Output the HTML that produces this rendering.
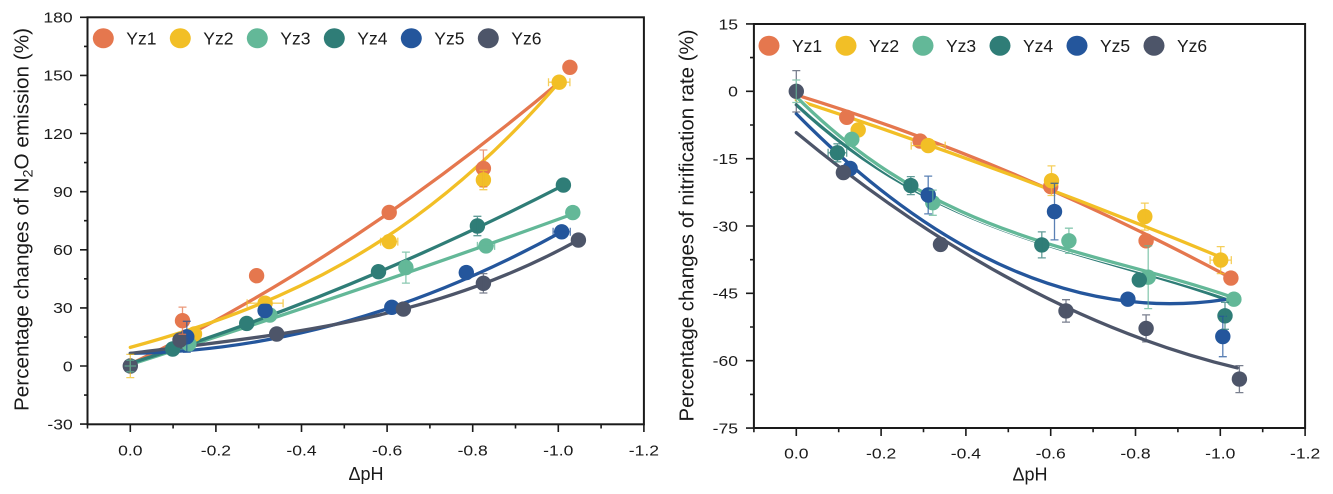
<!DOCTYPE html>
<html>
<head>
<meta charset="utf-8">
<style>
html,body{margin:0;padding:0;background:#fff;}
svg{display:block;}
text{font-family:"Liberation Sans",Arial,sans-serif;fill:#1a1a1a;}
</style>
</head>
<body>
<svg width="1333" height="494" viewBox="0 0 1333 494" xmlns="http://www.w3.org/2000/svg">
<rect x="0" y="0" width="1333" height="494" fill="#fff"/>

<!-- ================= LEFT CHART ================= -->
<!-- curves -->
<g fill="none" stroke-linecap="round">
  <g stroke="#fff" stroke-width="5">
    <path d="M130.3,364.1 Q346.9,261.2 563.4,78.7"/>
    <path d="M130.3,347.4 C273,308.3 415.6,249 558.3,83.2"/>
    <path d="M130.3,364.5 Q351.6,294.3 572.9,214"/>
    <path d="M130.3,363.3 Q346.9,296.5 563.4,185.3"/>
    <path d="M130.3,353.4 Q346,350.4 561.7,231.8"/>
    <path d="M130.3,353.4 C279.7,334.6 429,322.4 578.4,240.1"/>
  </g>
  <path d="M130.3,364.1 Q346.9,261.2 563.4,78.7" stroke="#E5774E" stroke-width="3.3"/>
  <path d="M130.3,347.4 C273,308.3 415.6,249 558.3,83.2" stroke="#F2BF26" stroke-width="3.3"/>
  <path d="M130.3,364.5 Q351.6,294.3 572.9,214" stroke="#63B898" stroke-width="3.3"/>
  <path d="M130.3,363.3 Q346.9,296.5 563.4,185.3" stroke="#2F7D77" stroke-width="3.3"/>
  <path d="M130.3,353.4 Q346,350.4 561.7,231.8" stroke="#24569C" stroke-width="3.3"/>
  <path d="M130.3,353.4 C279.7,334.6 429,322.4 578.4,240.1" stroke="#4D5569" stroke-width="3.3"/>
</g>

<!-- markers -->
<g fill="#E5774E">
  <circle cx="182.5" cy="320.7" r="7.7"/><circle cx="256.6" cy="275.7" r="7.7"/>
  <circle cx="389.2" cy="212.4" r="7.7"/><circle cx="483.4" cy="168.4" r="7.7"/>
  <circle cx="569.9" cy="67.3" r="7.7"/>
</g>
<g fill="#F2BF26">
  <circle cx="194.5" cy="334.0" r="7.7"/><circle cx="265.1" cy="303.2" r="7.7"/>
  <circle cx="389.2" cy="241.6" r="7.7"/><circle cx="483.4" cy="180.0" r="7.7"/>
  <circle cx="559.2" cy="82.2" r="7.7"/>
</g>
<g fill="#63B898">
  <circle cx="188.9" cy="343.9" r="7.7"/><circle cx="269.8" cy="315.1" r="7.7"/>
  <circle cx="405.9" cy="267.6" r="7.7"/><circle cx="486.0" cy="245.9" r="7.7"/>
  <circle cx="572.8" cy="212.6" r="7.7"/>
</g>
<g fill="#2F7D77">
  <circle cx="172.7" cy="349.0" r="7.7"/><circle cx="246.7" cy="323.4" r="7.7"/>
  <circle cx="378.5" cy="271.7" r="7.7"/><circle cx="477.4" cy="226.0" r="7.7"/>
  <circle cx="563.4" cy="185.1" r="7.7"/>
</g>
<g fill="#24569C">
  <circle cx="186.8" cy="336.8" r="7.7"/><circle cx="265.1" cy="310.6" r="7.7"/>
  <circle cx="391.8" cy="307.3" r="7.7"/><circle cx="466.3" cy="272.6" r="7.7"/>
  <circle cx="561.7" cy="231.8" r="7.7"/>
</g>
<g fill="#4D5569">
  <circle cx="130.3" cy="366" r="7.7"/>
  <circle cx="180.0" cy="340.0" r="7.7"/><circle cx="276.7" cy="334.0" r="7.7"/>
  <circle cx="403.4" cy="309.1" r="7.7"/><circle cx="483.4" cy="283.3" r="7.7"/>
  <circle cx="578.4" cy="240.1" r="7.7"/>
</g>

<!-- error bars -->
<g fill="none" stroke-width="1.3" opacity="0.75">
  <path stroke="#F2BF26" d="M130.3,354.4V377.6M126.3,354.4H134.3M126.3,377.6H134.3"/>
  <path stroke="#63B898" d="M130.3,360.2V371.8M126.3,360.2H134.3M126.3,371.8H134.3M124.5,366H136.1"/>
  <path stroke="#E5774E" d="M182.5,307.1V334.3M178.5,307.1H186.5M178.5,334.3H186.5"/>
  <path stroke="#24569C" d="M186.8,321.3V352.3M182.8,321.3H190.8M182.8,352.3H190.8"/>
  <path stroke="#F2BF26" d="M247.1,303.2H283.1M247.1,299.2V307.2M283.1,299.2V307.2"/>
  <path stroke="#63B898" d="M405.9,252.1V283.1M401.9,252.1H409.9M401.9,283.1H409.9"/>
  <path stroke="#E5774E" d="M483.4,150V186.8M479.4,150H487.4M479.4,186.8H487.4"/>
  <path stroke="#F2BF26" d="M483.4,170.3V189.7M479.4,170.3H487.4M479.4,189.7H487.4"/>
  <path stroke="#2F7D77" d="M477.4,216.3V235.7M473.4,216.3H481.4M473.4,235.7H481.4"/>
  <path stroke="#63B898" d="M477.4,245.9H494.6M477.4,241.9V249.9M494.6,241.9V249.9"/>
  <path stroke="#4D5569" d="M483.4,273.6V293M479.4,273.6H487.4M479.4,293H487.4"/>
  <path stroke="#F2BF26" d="M548.5,82.2H569.9M548.5,78.2V86.2M569.9,78.2V86.2"/>
  <path stroke="#24569C" d="M553.1,231.8H570.3M553.1,227.8V235.8M570.3,227.8V235.8"/>
  <path stroke="#F2BF26" d="M380.6,241.6H397.8M380.6,237.6V245.6M397.8,237.6V245.6"/>
</g>

<!-- frame & ticks -->
<rect x="87.5" y="17.3" width="556.4" height="407" fill="none" stroke="#1a1a1a" stroke-width="2"/>
<path fill="none" stroke="#1a1a1a" stroke-width="1.6" d="
M80,17.3H87.5M80,75.4H87.5M80,133.5H87.5M80,191.7H87.5M80,249.8H87.5M80,307.9H87.5M80,366H87.5M80,424.1H87.5
M84,46.4H87.5M84,104.5H87.5M84,162.6H87.5M84,220.7H87.5M84,278.8H87.5M84,337H87.5M84,395.1H87.5
M130.3,424.3V432M215.9,424.3V432M301.5,424.3V432M387.1,424.3V432M472.7,424.3V432M558.3,424.3V432M643.9,424.3V432
M87.5,424.3V428.5M173.1,424.3V428.5M258.7,424.3V428.5M344.3,424.3V428.5M429.9,424.3V428.5M515.5,424.3V428.5M601.1,424.3V428.5"/>

<!-- y tick labels -->
<g font-size="15" text-anchor="end" lengthAdjust="spacingAndGlyphs">
  <text x="72.7" y="22.6" textLength="29.3" lengthAdjust="spacingAndGlyphs">180</text>
  <text x="72.7" y="80.7" textLength="29.3" lengthAdjust="spacingAndGlyphs">150</text>
  <text x="72.7" y="138.8" textLength="29.3" lengthAdjust="spacingAndGlyphs">120</text>
  <text x="72.7" y="197" textLength="19.5" lengthAdjust="spacingAndGlyphs">90</text>
  <text x="72.7" y="255.1" textLength="19.5" lengthAdjust="spacingAndGlyphs">60</text>
  <text x="72.7" y="313.2" textLength="19.5" lengthAdjust="spacingAndGlyphs">30</text>
  <text x="72.7" y="371.3" textLength="9.8" lengthAdjust="spacingAndGlyphs">0</text>
  <text x="72.7" y="429.4" textLength="25.3" lengthAdjust="spacingAndGlyphs">-30</text>
</g>
<!-- x tick labels -->
<g font-size="15" text-anchor="middle">
  <text x="130.3" y="455.5" textLength="24.4" lengthAdjust="spacingAndGlyphs">0.0</text>
  <text x="215.9" y="455.5" textLength="30.2" lengthAdjust="spacingAndGlyphs">-0.2</text>
  <text x="301.5" y="455.5" textLength="30.2" lengthAdjust="spacingAndGlyphs">-0.4</text>
  <text x="387.1" y="455.5" textLength="30.2" lengthAdjust="spacingAndGlyphs">-0.6</text>
  <text x="472.7" y="455.5" textLength="30.2" lengthAdjust="spacingAndGlyphs">-0.8</text>
  <text x="558.3" y="455.5" textLength="30.2" lengthAdjust="spacingAndGlyphs">-1.0</text>
  <text x="643.9" y="455.5" textLength="30.2" lengthAdjust="spacingAndGlyphs">-1.2</text>
</g>
<text x="366" y="480" font-size="18" text-anchor="middle">ΔpH</text>
<text transform="translate(28.5,219.5) rotate(-90)" font-size="20" text-anchor="middle" textLength="383" lengthAdjust="spacingAndGlyphs">Percentage changes of N<tspan dy="4" font-size="14">2</tspan><tspan dy="-4">O emission (%)</tspan></text>

<!-- legend left -->
<g>
  <ellipse cx="103.3" cy="38.3" rx="10.5" ry="10" fill="#E5774E"/>
  <ellipse cx="180.3" cy="38.3" rx="10.5" ry="10" fill="#F2BF26"/>
  <ellipse cx="257.3" cy="38.3" rx="10.5" ry="10" fill="#63B898"/>
  <ellipse cx="334.3" cy="38.3" rx="10.5" ry="10" fill="#2F7D77"/>
  <ellipse cx="411.3" cy="38.3" rx="10.5" ry="10" fill="#24569C"/>
  <ellipse cx="488.3" cy="38.3" rx="10.5" ry="10" fill="#4D5569"/>
</g>
<g font-size="17.5">
  <text x="126.3" y="44.6">Yz1</text>
  <text x="203.3" y="44.6">Yz2</text>
  <text x="280.3" y="44.6">Yz3</text>
  <text x="357.3" y="44.6">Yz4</text>
  <text x="434.3" y="44.6">Yz5</text>
  <text x="511.3" y="44.6">Yz6</text>
</g>

<!-- ================= RIGHT CHART ================= -->
<g fill="none" stroke-linecap="round">
  <g stroke="#fff" stroke-width="5">
    <path d="M796.3,94.9 Q1014.7,161.9 1233,279"/>
    <path d="M796.3,99.8 Q1008.3,169.4 1220.3,257"/>
    <path d="M796.3,104.8 C941.9,240.4 1087.5,248.5 1233,301.9"/>
    <path d="M796.3,113.75 Q1010.4,331.5 1224.5,299.6"/>
    <path d="M796.3,132.6 Q1016.8,314.9 1237.3,367.9"/>
  </g>
  <path d="M796.3,94.9 Q1014.7,161.9 1233,279" stroke="#E5774E" stroke-width="3.3"/>
  <path d="M796.3,99.8 Q1008.3,169.4 1220.3,257" stroke="#F2BF26" stroke-width="3.3"/>
  <path d="M796.3,104.8 C941.9,240.4 1087.5,248.5 1233,301.9" stroke="#2F7D77" stroke-width="3.3"/>
  <path d="M796.3,96.7 C941.9,242.2 1087.5,247.1 1233,297.4" stroke="#fff" stroke-width="5"/>
  <path d="M796.3,96.7 C941.9,242.2 1087.5,247.1 1233,297.4" stroke="#63B898" stroke-width="3.3"/>
  <path d="M796.3,113.75 Q1010.4,331.5 1224.5,299.6" stroke="#24569C" stroke-width="3.3"/>
  <path d="M796.3,132.6 Q1016.8,314.9 1237.3,367.9" stroke="#4D5569" stroke-width="3.3"/>
</g>

<g fill="#E5774E">
  <circle cx="846.8" cy="117.3" r="7.7"/><circle cx="920.1" cy="141.1" r="7.7"/>
  <circle cx="1050.7" cy="186.5" r="7.7"/><circle cx="1146.1" cy="240.8" r="7.7"/>
  <circle cx="1230.9" cy="278.1" r="7.7"/>
</g>
<g fill="#F2BF26">
  <circle cx="858.2" cy="129.9" r="7.7"/><circle cx="928.2" cy="145.6" r="7.7"/>
  <circle cx="1051.5" cy="180.7" r="7.7"/><circle cx="1144.8" cy="216.6" r="7.7"/>
  <circle cx="1220.7" cy="260.1" r="7.7"/>
</g>
<g fill="#63B898">
  <circle cx="851.8" cy="139.3" r="7.7"/><circle cx="932.8" cy="202.7" r="7.7"/>
  <circle cx="1068.9" cy="240.8" r="7.7"/><circle cx="1148.2" cy="277.2" r="7.7"/>
  <circle cx="1233.9" cy="299.2" r="7.7"/>
</g>
<g fill="#2F7D77">
  <circle cx="837.4" cy="152.8" r="7.7"/><circle cx="910.8" cy="185.6" r="7.7"/>
  <circle cx="1041.8" cy="244.9" r="7.7"/><circle cx="1139.3" cy="279.9" r="7.7"/>
  <circle cx="1225.0" cy="315.8" r="7.7"/>
</g>
<g fill="#24569C">
  <circle cx="850.1" cy="168.5" r="7.7"/><circle cx="928.2" cy="195.0" r="7.7"/>
  <circle cx="1054.5" cy="211.6" r="7.7"/><circle cx="1127.9" cy="299.2" r="7.7"/>
  <circle cx="1222.8" cy="336.5" r="7.7"/>
</g>
<g fill="#4D5569">
  <circle cx="796.3" cy="91.3" r="7.7"/>
  <circle cx="843.4" cy="172.6" r="7.7"/><circle cx="940.5" cy="244.4" r="7.7"/>
  <circle cx="1066.0" cy="310.9" r="7.7"/><circle cx="1146.1" cy="328.4" r="7.7"/>
  <circle cx="1239.4" cy="379.1" r="7.7"/>
</g>

<g fill="none" stroke-width="1.3" opacity="0.75">
  <path stroke="#4D5569" d="M796.3,70.6V112M792.3,70.6H800.3M792.3,112H800.3"/>
  <path stroke="#63B898" d="M792.3,80H800.3M792.3,102.5H800.3M796.3,80V102.5"/>
  <path stroke="#2F7D77" d="M828.1,152.8H846.7M828.1,148.8V156.8M846.7,148.8V156.8M837.4,143.8V161.8M833.4,143.8H841.4M833.4,161.8H841.4"/>
  <path stroke="#F2BF26" d="M911.2,145.6H945.2M911.2,141.6V149.6M945.2,141.6V149.6"/>
  <path stroke="#24569C" d="M928.2,176.1V213.9M924.2,176.1H932.2M924.2,213.9H932.2"/>
  <path stroke="#2F7D77" d="M910.8,176.6V194.6M906.8,176.6H914.8M906.8,194.6H914.8"/>
  <path stroke="#63B898" d="M932.8,190.1V215.3M928.8,190.1H936.8M928.8,215.3H936.8"/>
  <path stroke="#F2BF26" d="M1051.5,165.9V195.5M1047.5,165.9H1055.5M1047.5,195.5H1055.5M1045.1,180.7H1057.9"/>
  <path stroke="#24569C" d="M1054.5,183.3V239.9M1050.5,183.3H1058.5M1050.5,239.9H1058.5"/>
  <path stroke="#2F7D77" d="M1041.8,231.9V257.9M1037.8,231.9H1045.8M1037.8,257.9H1045.8"/>
  <path stroke="#63B898" d="M1068.9,228.2V253.4M1064.9,228.2H1072.9M1064.9,253.4H1072.9"/>
  <path stroke="#F2BF26" d="M1144.8,203.1V230.1M1140.8,203.1H1148.8M1140.8,230.1H1148.8"/>
  <path stroke="#63B898" d="M1148.2,245.8V308.6M1144.2,245.8H1152.2M1144.2,308.6H1152.2"/>
  <path stroke="#4D5569" d="M1066,299.7V322.1M1062,299.7H1070M1062,322.1H1070"/>
  <path stroke="#4D5569" d="M1146.1,314.9V341.9M1142.1,314.9H1150.1M1142.1,341.9H1150.1"/>
  <path stroke="#F2BF26" d="M1220.7,246.6V273.6M1216.7,246.6H1224.7M1216.7,273.6H1224.7M1210.1,260.1H1231.3M1210.1,256.1V264.1M1231.3,256.1V264.1"/>
  <path stroke="#24569C" d="M1222.8,316.3V356.7M1218.8,316.3H1226.8M1218.8,356.7H1226.8"/>
  <path stroke="#4D5569" d="M1239.4,365.6V392.6M1235.4,365.6H1243.4M1235.4,392.6H1243.4"/>
  <path stroke="#2F7D77" d="M1225,302.3V329.3M1221,302.3H1229M1221,329.3H1229"/>
</g>

<rect x="753.9" y="24" width="551.2" height="404" fill="none" stroke="#1a1a1a" stroke-width="2"/>
<path fill="none" stroke="#1a1a1a" stroke-width="1.6" d="
M746,23.95H753.9M746,91.3H753.9M746,158.65H753.9M746,226H753.9M746,293.35H753.9M746,360.7H753.9M746,428.05H753.9
M750,57.6H753.9M750,125H753.9M750,192.3H753.9M750,259.7H753.9M750,327H753.9M750,394.4H753.9
M796.3,428V436M881.1,428V436M965.9,428V436M1050.7,428V436M1135.5,428V436M1220.3,428V436M1305.1,428V436
M753.9,428V432.2M838.7,428V432.2M923.5,428V432.2M1008.3,428V432.2M1093.1,428V432.2M1177.9,428V432.2M1262.7,428V432.2"/>

<g font-size="15" text-anchor="end">
  <text x="738" y="29.3" textLength="19.5" lengthAdjust="spacingAndGlyphs">15</text>
  <text x="738" y="96.6" textLength="9.8" lengthAdjust="spacingAndGlyphs">0</text>
  <text x="738" y="164" textLength="25.3" lengthAdjust="spacingAndGlyphs">-15</text>
  <text x="738" y="231.3" textLength="25.3" lengthAdjust="spacingAndGlyphs">-30</text>
  <text x="738" y="298.7" textLength="25.3" lengthAdjust="spacingAndGlyphs">-45</text>
  <text x="738" y="366" textLength="25.3" lengthAdjust="spacingAndGlyphs">-60</text>
  <text x="738" y="433.4" textLength="25.3" lengthAdjust="spacingAndGlyphs">-75</text>
</g>
<g font-size="15" text-anchor="middle">
  <text x="796.3" y="458.5" textLength="24.4" lengthAdjust="spacingAndGlyphs">0.0</text>
  <text x="881.1" y="458.5" textLength="30.2" lengthAdjust="spacingAndGlyphs">-0.2</text>
  <text x="965.9" y="458.5" textLength="30.2" lengthAdjust="spacingAndGlyphs">-0.4</text>
  <text x="1050.7" y="458.5" textLength="30.2" lengthAdjust="spacingAndGlyphs">-0.6</text>
  <text x="1135.5" y="458.5" textLength="30.2" lengthAdjust="spacingAndGlyphs">-0.8</text>
  <text x="1220.3" y="458.5" textLength="30.2" lengthAdjust="spacingAndGlyphs">-1.0</text>
  <text x="1305.1" y="458.5" textLength="30.2" lengthAdjust="spacingAndGlyphs">-1.2</text>
</g>
<text x="1030" y="480.5" font-size="18" text-anchor="middle">ΔpH</text>
<text transform="translate(693.5,225.5) rotate(-90)" font-size="20" text-anchor="middle" textLength="392" lengthAdjust="spacingAndGlyphs">Percentage changes of nitrification rate (%)</text>

<g>
  <ellipse cx="769" cy="45.7" rx="10.5" ry="10" fill="#E5774E"/>
  <ellipse cx="846" cy="45.7" rx="10.5" ry="10" fill="#F2BF26"/>
  <ellipse cx="923" cy="45.7" rx="10.5" ry="10" fill="#63B898"/>
  <ellipse cx="1000" cy="45.7" rx="10.5" ry="10" fill="#2F7D77"/>
  <ellipse cx="1077" cy="45.7" rx="10.5" ry="10" fill="#24569C"/>
  <ellipse cx="1154" cy="45.7" rx="10.5" ry="10" fill="#4D5569"/>
</g>
<g font-size="17.5">
  <text x="792" y="52">Yz1</text>
  <text x="869" y="52">Yz2</text>
  <text x="946" y="52">Yz3</text>
  <text x="1023" y="52">Yz4</text>
  <text x="1100" y="52">Yz5</text>
  <text x="1177" y="52">Yz6</text>
</g>
</svg>
</body>
</html>
